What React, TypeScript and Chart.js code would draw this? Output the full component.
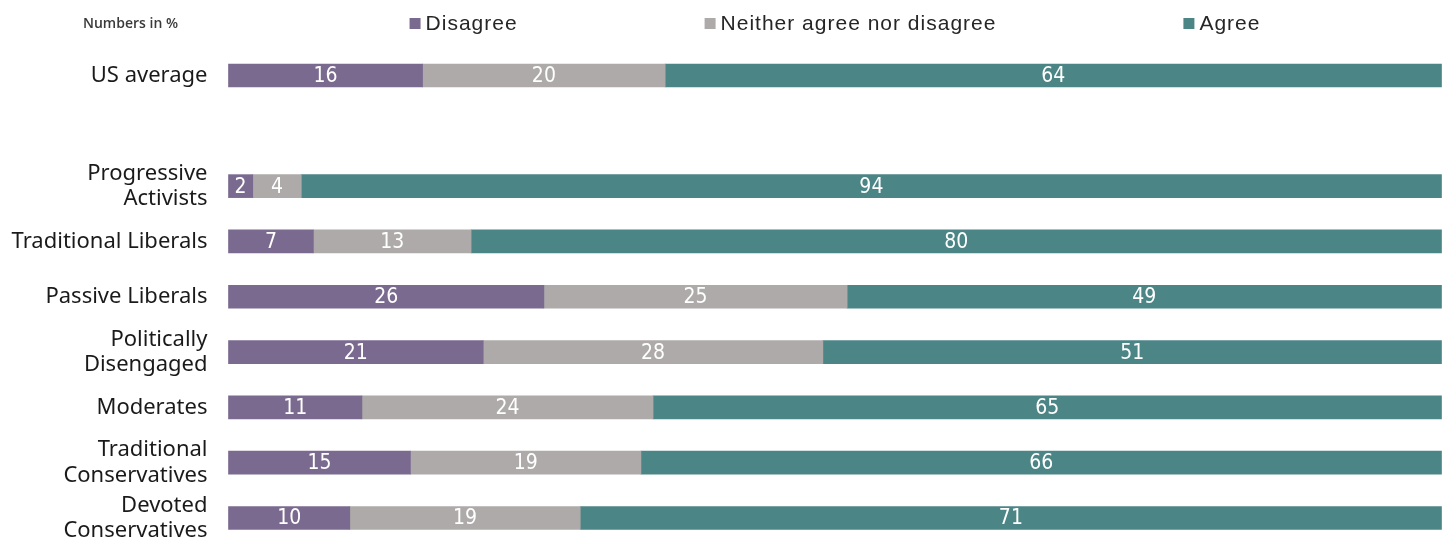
import React, { useEffect, useRef } from "react";
import { Chart, registerables } from "chart.js";

Chart.register(...registerables);

const categories: (string | string[])[] = [
  "US average",
  "",
  ["Progressive", "Activists"],
  "Traditional Liberals",
  "Passive Liberals",
  ["Politically", "Disengaged"],
  "Moderates",
  ["Traditional", "Conservatives"],
  ["Devoted", "Conservatives"],
];
const seriesNames = ["Disagree", "Neither agree nor disagree", "Agree"];
const disagree = [16, null, 2, 7, 26, 21, 11, 15, 10];
const neither = [20, null, 4, 13, 25, 28, 24, 19, 19];
const agree = [64, null, 94, 80, 49, 51, 65, 66, 71];
const seriesColors = ["#7b6a8f", "#aeaaa9", "#4c8586"];
const noteText = "Numbers in %";

const valueLabels = {
  id: "valueLabels",
  afterDatasetsDraw(chart: any) {
    const ctx = chart.ctx;
    ctx.save();
    ctx.font = "21px 'DejaVu Sans Condensed', 'Liberation Sans Narrow', sans-serif";
    ctx.fillStyle = "#ffffff";
    ctx.textAlign = "center";
    ctx.textBaseline = "middle";
    chart.data.datasets.forEach((ds: any, di: number) => {
      const meta = chart.getDatasetMeta(di);
      meta.data.forEach((el: any, i: number) => {
        const v = ds.data[i];
        if (v == null) return;
        const p = el.getCenterPoint();
        ctx.fillText(String(v), p.x, p.y + 1);
      });
    });
    ctx.restore();
  },
};

const topLegend = {
  id: "topLegend",
  afterDraw(chart: any) {
    const ctx = chart.ctx;
    const area = chart.chartArea;
    ctx.save();
    ctx.font = "600 14px 'Open Sans', sans-serif";
    ctx.fillStyle = "#3a3a3a";
    ctx.textAlign = "left";
    ctx.textBaseline = "alphabetic";
    ctx.fillText(noteText, 83, 28);

    ctx.font = "21px 'Liberation Sans', sans-serif";
    try {
      (ctx as any).letterSpacing = "1px";
    } catch (e) {}
    const box = 11;
    const gapBT = 5;
    const gap = 187;
    const ds = chart.data.datasets;
    const widths = ds.map((d: any) => box + gapBT + ctx.measureText(d.label).width);
    const total = widths.reduce((a: number, b: number) => a + b, 0) + gap * (widths.length - 1);
    let x = (area.left + area.right) / 2 - total / 2;
    ds.forEach((d: any, i: number) => {
      ctx.fillStyle = d.backgroundColor;
      ctx.fillRect(x, 18, box, box);
      ctx.fillStyle = "#262626";
      ctx.fillText(d.label, x + box + gapBT, 30);
      x += widths[i] + gap;
    });
    ctx.restore();
  },
};

export default function App() {
  const ref = useRef<HTMLCanvasElement | null>(null);

  useEffect(() => {
    if (!ref.current) return;
    const seriesData = [disagree, neither, agree];
    const chart = new Chart(ref.current, {
      type: "bar",
      data: {
        labels: categories as any,
        datasets: seriesNames.map((name, i) => ({
          label: name,
          data: seriesData[i] as any,
          backgroundColor: seriesColors[i],
          borderWidth: 0,
          barThickness: 23,
          clip: false as any,
        })),
      },
      options: {
        indexAxis: "y",
        responsive: false,
        animation: false,
        layout: { padding: { top: 75.5, bottom: 22, left: 0, right: 6.5 } },
        plugins: {
          legend: { display: false },
          tooltip: { enabled: false },
        },
        scales: {
          x: { stacked: true, min: 0, max: 100, display: false },
          y: {
            stacked: true,
            offset: false,
            grid: { display: false, drawTicks: false },
            border: { display: false },
            ticks: {
              padding: 21,
              color: "#1a1a1a",
              font: { family: "'Noto Sans'", size: 22, lineHeight: 1.15 },
            },
            afterFit: (scale: any) => {
              scale.width = 228.5;
              scale.paddingTop = 0;
              scale.paddingBottom = 0;
            },
          },
        },
      },
      plugins: [valueLabels, topLegend],
    });
    return () => chart.destroy();
  }, []);

  return (
    <div style={{ position: "fixed", left: 0, top: 0, width: 1448, height: 540, background: "#fff" }}>
      <canvas ref={ref} width={1448} height={540} style={{ display: "block" }} />
    </div>
  );
}
